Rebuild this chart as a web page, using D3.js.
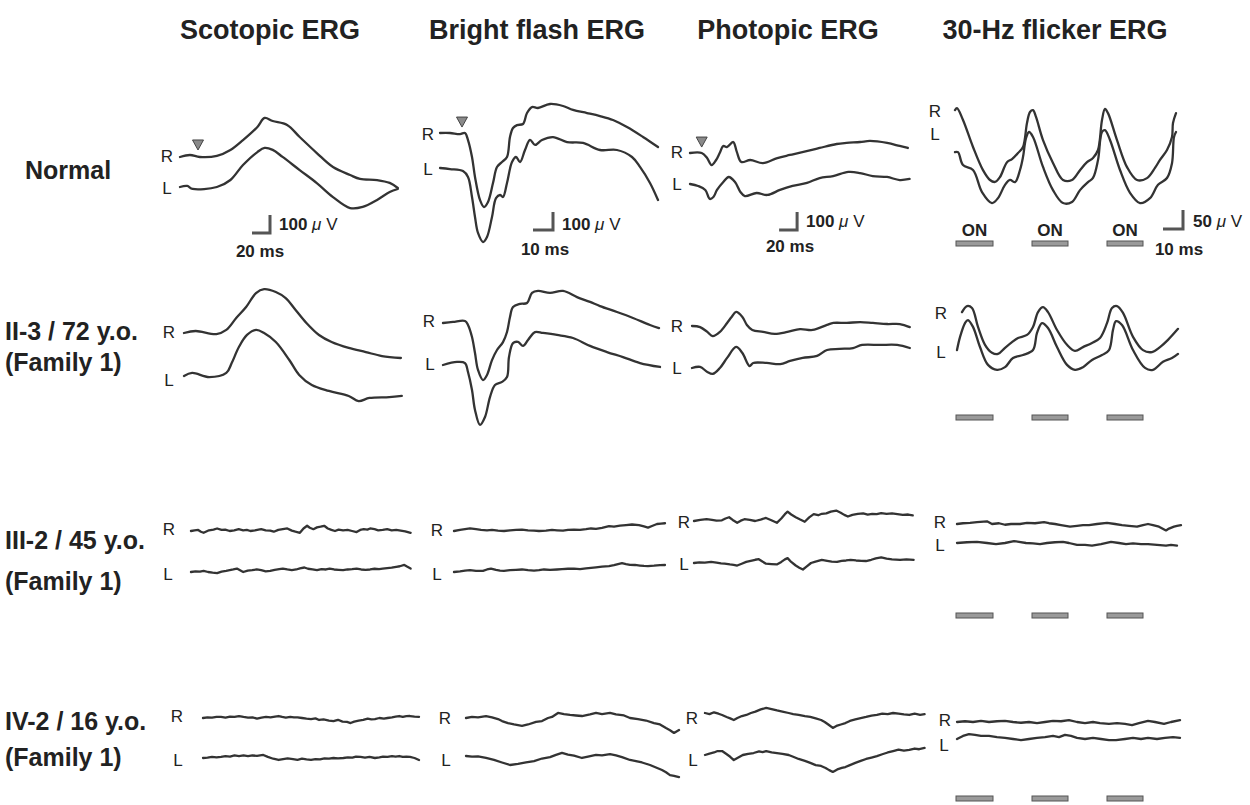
<!DOCTYPE html>
<html><head><meta charset="utf-8">
<script src="https://cdn.jsdelivr.net/npm/d3@7"></script>
<style>body{margin:0;background:#fff}svg{display:block}</style>
</head><body><svg id="c" width="1250" height="805"></svg>
<script>
// ---------- labels ----------
const columnTitles = ["Scotopic ERG", "Bright flash ERG", "Photopic ERG", "30-Hz flicker ERG"];
const rowLabels = [["Normal"], ["II-3 / 72 y.o.", "(Family 1)"], ["III-2 / 45 y.o.", "(Family 1)"], ["IV-2 / 16 y.o.", "(Family 1)"]];
const eyeLabels = ["R", "L"];
const scaleBarTime = [20, 10, 20, 10];   // ms
const scaleBarAmp = [100, 100, 100, 50]; // µV
const stimulusLabel = "ON";
const onPhases = [[0.5, 19], [38.5, 56.5], [76, 94]]; // ms

// ---------- traces: [time ms, amplitude µV] ----------
const normScoR = [[0,0],[11,11],[22,0],[41,6],[56,39],[70,94],[86,167],[94,217],[103,200],[119,178],[133,111],[152,22],[170,-56],[189,-100],[200,-122],[219,-128],[233,-144],[242,-172]];
const normScoL = [[0,0],[8,6],[14,-11],[41,0],[56,39],[70,122],[86,194],[94,217],[103,206],[114,167],[133,94],[152,22],[170,-56],[189,-117],[203,-111],[219,-72],[233,-28],[242,-11]];
const normBfR = [[0,0],[5,0],[10,-6],[12.5,0],[14,-39],[16,-133],[17.5,-244],[20,-372],[22,-411],[24,-383],[26.5,-278],[28.5,-189],[31,-161],[33.5,-133],[35,-22],[36.5,28],[38.5,44],[41.5,50],[43.5,111],[46,144],[49,139],[55,161],[61.5,150],[66.5,128],[73.5,111],[80,94],[86.5,72],[93.5,33],[101.5,-22],[109,-78]];
const normBfL = [[0,0],[5,-6],[11.5,-17],[14,-50],[16,-161],[17.5,-272],[19,-361],[21.5,-411],[23.5,-383],[26,-272],[28,-167],[30,-150],[31.5,-161],[33.5,-83],[36,33],[38,61],[40,33],[42.5,100],[45,156],[47.5,128],[51,156],[56.5,172],[63.5,144],[71.5,139],[80,100],[88.5,100],[96,61],[100,6],[105,-83],[109,-178]];
const normPhoR = [[0,0],[13,0],[19,-28],[24,-67],[29,-39],[33,0],[37,39],[41,33],[48,61],[52,6],[57,-50],[67,-39],[81,-56],[97,-28],[111,-11],[126,6],[144,28],[163,50],[174,56],[189,61],[200,67],[219,56],[233,39],[242,28]];
const normPhoL = [[0,0],[9,-11],[17,-33],[22,-83],[26,-72],[30,-33],[37,11],[43,39],[50,11],[56,-44],[61,-67],[74,-50],[86,-61],[100,-33],[114,-11],[130,6],[144,33],[159,44],[176,67],[189,61],[203,44],[219,39],[233,22],[244,28]];
const normFlR = [[0,105],[1,110],[4,79],[9,8],[14,-53],[17.5,-79],[20,-84],[22.5,-71],[26,-32],[28.5,-24],[31.5,-8],[34,8],[36,71],[37.5,100],[39,105],[40.5,87],[44,26],[49,-34],[54,-79],[58.5,-79],[62.5,-53],[66,-32],[69,-21],[71.5,0],[73.5,79],[75,108],[76.5,97],[81,26],[86,-45],[91,-79],[96,-74],[100,-47],[102.5,-26],[106,0],[108.5,34],[109,71],[110.5,97]];
const normFlL = [[0,47],[1.5,47],[4,13],[9,0],[13.5,-58],[18.5,-87],[21.5,-74],[25,-39],[27.5,-26],[30,-32],[32.5,0],[34,34],[35.5,84],[37,100],[39,87],[44,8],[49,-53],[54,-87],[58.5,-84],[62.5,-53],[66.5,-32],[69,-21],[71.5,26],[73.5,100],[75,105],[77.5,79],[82.5,0],[87.5,-60],[92.5,-87],[97.5,-74],[101.5,-39],[106,-21],[108.5,18],[109.5,87],[110.5,100]];

const ii3ScoR = [[0,0],[13,11],[36,-6],[47,17],[58,83],[69,144],[80,222],[89,244],[102,228],[113,194],[124,128],[136,56],[150,-11],[164,-50],[183,-83],[202,-106],[220,-128],[241,-139]];
const ii3ScoL = [[0,0],[9,17],[28,-6],[47,17],[53,72],[61,161],[70,228],[80,256],[89,239],[102,189],[117,89],[128,6],[142,-50],[161,-83],[183,-111],[194,-139],[206,-122],[228,-117],[242,-111]];
const ii3BfR = [[0,0],[5,6],[11,11],[12.5,-11],[14.5,-78],[16,-167],[17.5,-261],[20,-317],[22,-289],[24.5,-206],[27,-150],[30,-106],[32,-50],[33.5,33],[35,89],[38.5,106],[42,111],[44.5,167],[47.5,178],[53.5,167],[60,178],[67,144],[73.5,117],[78.5,94],[87,61],[95,28],[103.5,-11],[108,-28]];
const ii3BfL = [[0,0],[7,17],[11,11],[12.5,-39],[14.5,-139],[16,-250],[18.5,-333],[21,-289],[23.5,-178],[26,-111],[29.5,-94],[32,-67],[33,44],[35,122],[37.5,128],[40,106],[42.5,139],[46,183],[50,178],[57,167],[65,150],[73.5,106],[82,72],[90,44],[98.5,11],[108.5,-11]];
const ii3PhoR = [[0,0],[9,-6],[17,-33],[23,-56],[31,-33],[39,17],[44,50],[49,78],[56,50],[61,6],[67,-22],[79,-33],[92,-44],[106,-33],[120,-17],[134,-22],[150,6],[157,17],[172,17],[187,22],[201,17],[217,11],[231,11],[242,-6]];
const ii3PhoL = [[0,0],[9,6],[17,-22],[23,-33],[31,0],[39,56],[49,117],[56,83],[64,11],[68,28],[83,28],[98,22],[109,39],[123,56],[139,67],[150,100],[164,106],[179,111],[189,128],[209,128],[228,128],[242,111]];
const ii3FlR = [[3.5,47],[6,63],[8.5,58],[11.5,8],[15,-39],[18.5,-60],[21.5,-63],[25,-47],[28.5,-32],[31.5,-21],[36,-13],[39,8],[41.5,47],[44,60],[46.5,47],[51,0],[56,-39],[60,-55],[64,-45],[68.5,-34],[72.5,-21],[76,18],[78.5,58],[81,63],[84,45],[89,-18],[94,-53],[98.5,-58],[102.5,-45],[106.5,-26],[111.5,3]];
const ii3FlL = [[1,13],[2.5,47],[5,84],[6.5,92],[9,74],[12.5,21],[16.5,-26],[21,-39],[25,-32],[29,-8],[34,0],[39,13],[41,58],[43.5,84],[46.5,71],[51,21],[56,-26],[60,-39],[64,-32],[68.5,-13],[73.5,0],[77,13],[79,66],[80.5,89],[83.5,79],[89,13],[95,-34],[99,-39],[104,-18],[108.5,-8],[111.5,3]];

const iii2ScoR = [[0,0],[4,4],[8,6],[11,-4],[14,-10],[20,4],[25,8],[29,14],[34,6],[38,8],[43,0],[48,4],[53,10],[58,4],[62,6],[66,0],[71,4],[75,8],[78,10],[83,4],[88,2],[92,-4],[97,6],[102,10],[107,14],[112,2],[116,-4],[121,-10],[125,14],[129,29],[132,18],[136,10],[140,20],[144,24],[148,29],[152,14],[156,6],[160,0],[164,8],[169,4],[174,6],[179,0],[184,-6],[188,6],[192,10],[196,8],[199,14],[204,10],[208,4],[213,6],[218,10],[223,4],[228,6],[233,2],[238,-2],[241,-6],[244,-10]];
const iii2ScoL = [[0,0],[5,4],[10,2],[14,6],[19,0],[24,-4],[29,-6],[34,2],[39,6],[43,10],[47,14],[51,19],[55,8],[58,0],[63,8],[68,10],[73,14],[78,10],[83,4],[88,6],[93,12],[98,16],[102,19],[107,14],[112,10],[117,14],[121,20],[126,25],[130,18],[135,14],[140,10],[145,16],[150,14],[154,19],[159,14],[164,12],[169,10],[174,14],[179,16],[184,19],[189,14],[194,12],[199,14],[204,18],[209,16],[213,19],[218,22],[223,24],[228,29],[232,32],[237,39],[240,30],[244,19]];
const iii2BfR = [[0,0],[3,6],[5.5,10],[8,14],[11,10],[13.5,6],[16.5,4],[19,6],[22,2],[25,0],[28,4],[31,6],[34,8],[37,4],[40,2],[42.5,0],[46,2],[49,6],[51.5,4],[54.5,2],[57,6],[60,8],[63,6],[66,10],[68.5,14],[71,12],[74,18],[77.5,27],[80,24],[83,30],[86,33],[89,36],[92.5,33],[95,26],[97,19],[99,28],[101.5,39],[103.5,41],[105.5,43]];
const iii2BfL = [[0,0],[3,4],[5.5,8],[8,10],[11,6],[14.5,6],[16.5,14],[18.5,19],[21,12],[23,8],[25,6],[28,10],[31,12],[34,14],[37,10],[40,8],[42.5,10],[45,14],[48,12],[51.5,14],[54,16],[57,18],[60,19],[63,16],[66,20],[68.5,23],[71,26],[74,30],[77.5,33],[80,38],[82,44],[84,49],[86,44],[88,40],[90.5,39],[93,36],[95,34],[97,33],[100,35],[103,38],[105.5,39]];
const iii2PhoR = [[0,0],[7,6],[14,10],[20,6],[25,2],[31,4],[35,14],[39,21],[43,6],[48,-10],[52,2],[56,10],[62,6],[68,0],[74,8],[80,17],[86,4],[92,-10],[97,14],[101,38],[104,52],[108,36],[113,21],[118,8],[123,-4],[128,20],[133,38],[138,32],[142,40],[147,42],[152,52],[158,58],[163,46],[167,34],[171,25],[176,34],[182,40],[188,42],[193,36],[198,40],[203,38],[208,44],[214,40],[220,42],[226,38],[232,34],[238,36],[243,31]];
const iii2PhoL = [[0,0],[6,4],[12,2],[19,6],[25,2],[30,-2],[34,-4],[40,-8],[44,-10],[48,-14],[53,-4],[58,6],[63,12],[68,18],[72,21],[76,8],[80,-4],[86,-6],[92,-8],[97,6],[101,20],[104,27],[108,6],[113,-14],[117,-26],[121,-36],[125,-20],[130,0],[135,8],[142,17],[148,12],[153,8],[159,6],[164,12],[169,14],[174,17],[180,14],[186,12],[191,11],[197,18],[202,26],[208,31],[214,24],[220,20],[229,17],[236,20],[244,17]];
const iii2FlR = [[0,0],[3,2],[6.5,3],[10,5],[15,7],[17.5,0],[21,2],[24,-2],[27,0],[31.5,0],[35,3],[39,2],[43.5,5],[46,2],[49,0],[52,-3],[56.5,-7],[60,-5],[63,-3],[66,-3],[70,0],[75,3],[79,0],[82.5,-3],[86,-5],[90,-7],[93,-3],[95.5,0],[98,-3],[101,-7],[104.5,-17],[106,-12],[108.5,-7],[110,-5],[112,-3]];
const iii2FlL = [[0,0],[5,2],[10,3],[15,0],[19.5,-3],[24,0],[28.5,5],[31,3],[34.5,0],[38,-1],[41.5,-3],[45,0],[49,2],[53,3],[56,0],[60,-5],[64,-5],[67.5,-7],[72,-3],[77,3],[81,0],[84.5,-3],[88,-1],[92,-3],[95.5,-3],[100,-5],[104.5,-7],[107,-5],[110,-7]];

const iv2ScoR = [[0,0],[5,4],[10,2],[15,6],[20,6],[25,2],[30,8],[35,6],[40,11],[45,6],[50,2],[55,4],[60,-4],[65,2],[70,6],[75,4],[80,8],[84,11],[88,6],[92,2],[97,6],[101,4],[105,4],[110,0],[115,-4],[120,-6],[125,-2],[129,-11],[134,-8],[140,-14],[145,-17],[150,-10],[155,-20],[160,-22],[164,-28],[168,-20],[173,-14],[178,-11],[183,-4],[187,-8],[191,-6],[196,0],[201,-4],[205,0],[210,4],[214,8],[218,11],[222,6],[226,10],[230,11],[235,8],[240,6]];
const iv2ScoL = [[0,0],[5,2],[10,6],[15,4],[20,6],[25,10],[30,8],[35,14],[40,11],[45,14],[50,10],[55,14],[60,12],[67,17],[72,6],[78,-4],[84,-11],[89,-6],[94,-2],[100,-6],[105,-10],[110,-4],[115,-8],[120,-11],[125,-6],[130,-8],[135,-2],[140,-4],[145,0],[150,-2],[156,0],[161,4],[166,2],[170,8],[175,6],[180,2],[185,6],[191,0],[196,4],[200,8],[205,6],[210,10],[214,8],[218,11],[222,6],[226,8],[230,6],[235,0],[240,-11]];
const iv2BfR = [[0,0],[3,6],[6,4],[10,11],[13,4],[16,-6],[18,-17],[21,-28],[24,-36],[28,-44],[31,-36],[35,-22],[38,-17],[41,0],[43,6],[46,28],[49,22],[52,17],[55,14],[58,11],[62,20],[65,28],[68,22],[72,28],[75,20],[79,14],[82,0],[86,-6],[90,-14],[94,-28],[97,-36],[100,-56],[102,-68],[104,-83],[106.5,-67]];
const iv2BfL = [[0,0],[3,-4],[6,-2],[10,-11],[14,-22],[18,-36],[22,-50],[26,-44],[30,-36],[34,-28],[38,-14],[42,-6],[45,6],[48,17],[51,8],[54,2],[58,-11],[61,-4],[65,6],[68,4],[72,11],[75,4],[78,-6],[82,-22],[85,-28],[88,-36],[92,-50],[95,-64],[98,-78],[100,-90],[102,-106],[104,-110],[106.5,-117]];
const iv2PhoR = [[0,0],[5,-6],[10,4],[15,-4],[19,-11],[24,-22],[28,-30],[32,-39],[36,-28],[41,-17],[46,-11],[51,0],[56,8],[62,20],[68,28],[74,22],[80,14],[86,8],[93,0],[98,-6],[104,-10],[111,-17],[117,-22],[123,-30],[129,-39],[133,-50],[137,-64],[142,-83],[146,-72],[151,-64],[156,-56],[161,-44],[167,-36],[173,-28],[179,-22],[185,-14],[191,-11],[197,-4],[203,-6],[209,0],[215,-4],[221,-8],[227,-11],[233,-4],[239,-10],[244,-6]];
const iv2PhoL = [[0,0],[5,8],[10,14],[14,22],[19,22],[23,8],[28,-10],[32,-28],[37,-14],[42,0],[48,6],[54,11],[60,20],[64,16],[68,22],[74,14],[80,10],[86,6],[93,0],[98,-10],[104,-22],[111,-33],[117,-44],[123,-56],[129,-61],[134,-72],[138,-84],[142,-94],[147,-80],[152,-72],[156,-67],[161,-56],[167,-44],[173,-33],[179,-22],[185,-14],[191,-6],[197,4],[203,14],[209,22],[215,30],[221,24],[227,28],[233,36],[238,32],[244,39]];
const iv2FlR = [[0,0],[4,2],[8,0],[12,3],[16,0],[20,2],[24,3],[28,0],[32,-2],[36,0],[40,-3],[44,0],[48,3],[52,2],[56,5],[60,0],[64,-3],[68,0],[71.5,-3],[76,-5],[80,-3],[84,-5],[87.5,-8],[91,-3],[95.5,3],[99,0],[103.5,-5],[107,0],[111.5,5]];
const iv2FlL = [[0,0],[3,8],[6,13],[9,11],[12,8],[16,8],[20,5],[24,3],[28,0],[32,-3],[36,0],[40,3],[44,5],[48,8],[51,5],[54,11],[57,8],[60,3],[64,0],[68,3],[72,0],[76,-3],[79.5,-3],[84,0],[88,3],[92,0],[95.5,3],[100,0],[104,3],[108,5],[111.5,3]];

// ---------- layout ----------
const colScale = [{kx:0.9,ky:0.18},{kx:2,ky:0.18},{kx:0.9,ky:0.18},{kx:2,ky:0.38}];
const smooth = d3.curveCatmullRom.alpha(0.5), jag = d3.curveLinear;
const panels = [
 {r:0,c:0,x0:180,yR:157,yL:187,R:normScoR,L:normScoL,lR:[167,156],lL:[167,188],curve:smooth,arrow:[20,39],bar:[100,-422],barT:[279,230],barX:[260,257]},
 {r:0,c:1,x0:440,yR:133,yL:168,R:normBfR,L:normBfL,lR:[428,134],lL:[428,169],curve:smooth,arrow:[11,33],bar:[56.5,-539],barT:[562,230],barX:[545,255]},
 {r:0,c:2,x0:690,yR:153,yL:184,R:normPhoR,L:normPhoL,lR:[677,152],lL:[677,184],curve:smooth,arrow:[13,33],bar:[119,-428],barT:[806,227],barX:[790,252]},
 {r:0,c:3,x0:955,yR:150,yL:170,R:normFlR,L:normFlL,lR:[935,111],lL:[935,134],curve:smooth,bar:[114,-208],barT:[1193,227],barX:[1179,255],stimY:241,onText:true},
 {r:1,c:0,x0:184,yR:333,yL:376,R:ii3ScoR,L:ii3ScoL,lR:[169,332],lL:[169,380],curve:smooth},
 {r:1,c:1,x0:443,yR:323,yL:365,R:ii3BfR,L:ii3BfL,lR:[429,321],lL:[430,364],curve:smooth},
 {r:1,c:2,x0:692,yR:326,yL:368,R:ii3PhoR,L:ii3PhoL,lR:[677,326],lL:[677,368],curve:smooth},
 {r:1,c:3,x0:955,yR:330,yL:355,R:ii3FlR,L:ii3FlL,lR:[941,313],lL:[941,352],curve:smooth,stimY:415},
 {r:2,c:0,x0:191,yR:531,yL:572,R:iii2ScoR,L:iii2ScoL,lR:[169,529],lL:[168,574],curve:jag},
 {r:2,c:1,x0:454,yR:531,yL:572,R:iii2BfR,L:iii2BfL,lR:[437,530],lL:[437,574],curve:jag},
 {r:2,c:2,x0:694,yR:521,yL:563,R:iii2PhoR,L:iii2PhoL,lR:[684,522],lL:[684,564],curve:jag},
 {r:2,c:3,x0:957,yR:524,yL:543,R:iii2FlR,L:iii2FlL,lR:[940,522],lL:[940,545],curve:jag,stimY:613},
 {r:3,c:0,x0:203,yR:718,yL:758,R:iv2ScoR,L:iv2ScoL,lR:[177,716],lL:[178,760],curve:jag},
 {r:3,c:1,x0:466,yR:718,yL:756,R:iv2BfR,L:iv2BfL,lR:[445,718],lL:[446,760],curve:jag},
 {r:3,c:2,x0:705,yR:713,yL:755,R:iv2PhoR,L:iv2PhoL,lR:[692,718],lL:[693,760],curve:jag},
 {r:3,c:3,x0:957,yR:722,yL:739,R:iv2FlR,L:iv2FlL,lR:[945,720],lL:[944,745],curve:jag,stimY:796}
];
const titleX = [270, 537, 788, 1055];
const rowLabelPos = [[[25,179]], [[5,340],[5,371]], [[5,549],[5,590]], [[5,730],[5,766]]];

const svg = d3.select("#c");
const FONT = "'Liberation Sans', Arial, sans-serif";

svg.selectAll("text.title").data(columnTitles).join("text")
  .attr("class","title").attr("x",(d,i)=>titleX[i]).attr("y",39)
  .attr("text-anchor","middle").attr("font-family",FONT).attr("font-weight","bold")
  .attr("font-size",27).attr("fill","#222").text(d=>d);

rowLabels.forEach((lines,r)=>{
  lines.forEach((t,j)=>{
    svg.append("text").attr("x",rowLabelPos[r][j][0]).attr("y",rowLabelPos[r][j][1])
      .attr("font-family",FONT).attr("font-weight","bold").attr("font-size",25)
      .attr("fill","#222").text(t);
  });
});

const stimX = d3.scaleLinear().domain([0,100]).range([955, 955+100*colScale[3].kx]);

panels.forEach(p=>{
  const k = colScale[p.c];
  const xs = d3.scaleLinear().domain([0,100]).range([p.x0, p.x0+100*k.kx]);
  const yR = d3.scaleLinear().domain([0,100]).range([p.yR, p.yR-100*k.ky]);
  const yL = d3.scaleLinear().domain([0,100]).range([p.yL, p.yL-100*k.ky]);
  const g = svg.append("g");
  [[p.R,yR],[p.L,yL]].forEach(([data,ys])=>{
    g.append("path").datum(data)
      .attr("d", d3.line().x(d=>xs(d[0])).y(d=>ys(d[1])).curve(p.curve))
      .attr("fill","none").attr("stroke","#333").attr("stroke-width",2.3)
      .attr("stroke-linejoin","round").attr("stroke-linecap","round");
  });
  [[eyeLabels[0],p.lR],[eyeLabels[1],p.lL]].forEach(([t,pos])=>{
    g.append("text").attr("x",pos[0]).attr("y",pos[1]+6).attr("text-anchor","middle")
      .attr("font-family",FONT).attr("font-size",17).attr("fill","#222").text(t);
  });
  if (p.arrow) {
    const tx = xs(p.arrow[0]), ty = yR(p.arrow[1]);
    g.append("path").attr("d",`M${tx-5.5},${ty-10}L${tx+5.5},${ty-10}L${tx},${ty}Z`)
      .attr("fill","#8a8a8a").attr("stroke","#444").attr("stroke-width",1);
  }
  if (p.bar) {
    const T = scaleBarTime[p.c], A = scaleBarAmp[p.c];
    const [bt,bv] = p.bar;
    g.append("path")
      .attr("d",`M${xs(bt-T)},${yR(bv)}L${xs(bt)},${yR(bv)}L${xs(bt)},${yR(bv+A)}`)
      .attr("fill","none").attr("stroke","#555").attr("stroke-width",3);
    const lt = g.append("text").attr("x",p.barT[0]).attr("y",p.barT[1])
      .attr("font-family",FONT).attr("font-size",17).attr("fill","#222");
    lt.append("tspan").attr("font-weight","bold").text(A);
    lt.append("tspan").attr("font-style","italic").text(" \u03bc");
    lt.append("tspan").text(" V");
    g.append("text").attr("x",p.barX[0]).attr("y",p.barX[1]).attr("text-anchor","middle")
      .attr("font-family",FONT).attr("font-size",17).attr("font-weight","bold")
      .attr("fill","#222").text(T+" ms");
  }
  if (p.stimY!==undefined) {
    onPhases.forEach(([a,b])=>{
      g.append("rect").attr("x",stimX(a)).attr("y",p.stimY)
        .attr("width",stimX(b)-stimX(a)).attr("height",5)
        .attr("fill","#9a9a9a").attr("stroke","#555").attr("stroke-width",1);
      if (p.onText) {
        g.append("text").attr("x",(stimX(a)+stimX(b))/2).attr("y",p.stimY-5)
          .attr("text-anchor","middle").attr("font-family",FONT).attr("font-size",17)
          .attr("font-weight","bold").attr("fill","#222").text(stimulusLabel);
      }
    });
  }
});
</script></body></html>
